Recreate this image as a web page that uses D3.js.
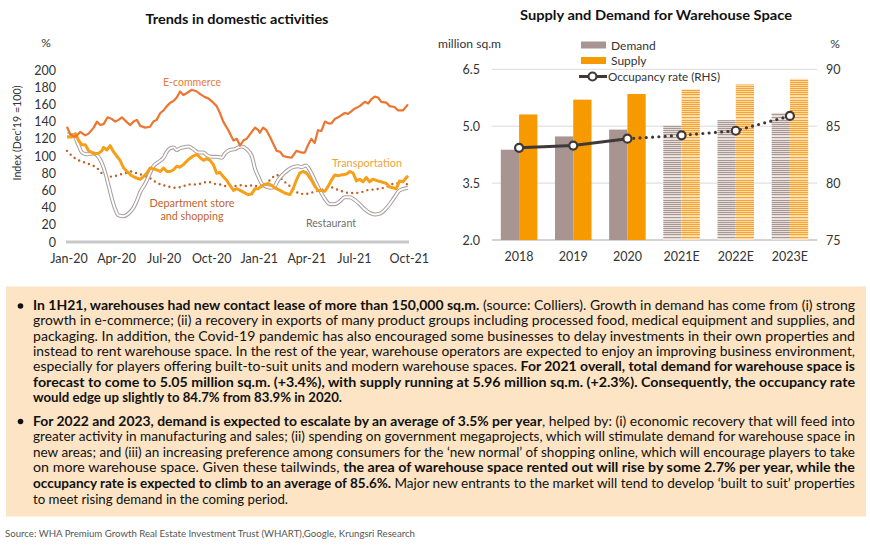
<!DOCTYPE html>
<html><head><meta charset="utf-8">
<script src="https://cdn.jsdelivr.net/npm/d3@7"></script>
<style>
html,body{margin:0;padding:0;background:#fff}
svg{display:block}
text{font-family:Lato,"Open Sans",sans-serif}
</style>
</head><body>
<svg id="chart" width="870" height="546"></svg>
<script>
// ---------------- Left chart data (x = weeks since start of Jan-20) ----------------
const timeTicks = [0, 13, 26, 39, 52, 65, 78, 93];
const timeTickLabels = ["Jan-20","Apr-20","Jul-20","Oct-20","Jan-21","Apr-21","Jul-21","Oct-21"];
const indexTicks = [0,20,40,60,80,100,120,140,160,180,200];

const ecommerce = [[0,134],[0.9,125],[2.3,122],[3.6,128],[5,124],[5.9,126],[7.3,133],[8.2,140],[9.1,136],[10,137],[11.1,145],[12.3,143],[13.2,140],[14.1,142],[15,145],[16.2,140],[17.3,136],[18.2,140],[19.1,142],[20,135],[21.4,133],[22.7,134],[23.6,140],[24.5,142],[25.5,150],[26.4,153],[27.3,158],[28.2,162],[29.1,164],[30,168],[30.9,175],[31.8,171],[32.7,173],[34.1,177],[35.5,175],[36.4,172],[37.5,169],[38.6,167],[40,162],[40.9,158],[41.8,150],[42.7,140],[44.1,130],[45.5,118],[46.4,120],[47.3,112],[48.2,118],[49.1,120],[50.5,128],[51.4,133],[52.3,130],[52.7,127],[53.6,133],[54.5,130],[55.5,122],[56.4,114],[57.3,106],[58.2,105],[59.1,100],[60,99],[61.4,98],[62.7,106],[64.1,104],[65,104],[65.9,113],[66.8,120],[67.7,115],[68.6,130],[69.5,129],[70.5,140],[71.4,138],[72.3,138],[73.2,143],[74.5,146],[75.9,150],[76.8,149],[77.7,152],[78.6,155],[80,158],[81.4,163],[82.3,161],[83.2,166],[84.1,169],[85,168],[85.9,163],[87.3,162],[88.2,158],[89.5,157],[90.5,153],[91.8,153],[93.2,160]];

const transportation = [[0,122],[1.4,122],[2.3,126],[3.2,118],[4.1,113],[5,113],[5.9,106],[7.3,103],[8.6,103],[9.5,106],[10,110],[10.9,107],[11.8,112],[12.7,105],[13.6,100],[14.5,95],[15.5,86],[16.4,82],[17.7,77],[18.6,75],[20,73],[20.9,76],[21.8,80],[22.7,86],[23.6,85],[24.5,84],[25.5,82],[26.4,86],[27.3,82],[28.2,82],[29.1,84],[30,88],[30.9,87],[31.8,90],[33.2,96],[34.5,100],[35.5,102],[36.4,98],[37.3,95],[38.2,97],[39.1,95],[40,90],[40.9,80],[41.8,81],[42.7,76],[43.6,72],[44.5,66],[45.5,60],[46.4,62],[47.3,60],[48.2,58],[49.5,55],[50.5,56],[51.4,62],[52.3,62],[53.2,65],[54.1,67],[55,68],[55.9,66],[56.8,63],[58.2,60],[59.5,57],[60.9,55],[61.8,62],[62.7,72],[63.6,80],[64.5,82],[65.5,80],[66.8,72],[67.7,65],[68.6,60],[69.5,60],[70.5,59],[71.4,65],[72.3,72],[73.2,78],[74.1,77],[75,78],[76.4,79],[77.3,82],[78.2,80],[79.1,71],[80,73],[80.9,70],[81.8,75],[82.7,70],[83.6,73],[85,71],[85.9,70],[87.3,68],[88.2,64],[89.1,63],[90,62],[90.9,71],[91.8,70],[93.2,77]];

const restaurant = [[0,125],[1.8,124],[3.2,112],[4.1,104],[5.5,102],[7.3,103],[8.6,99],[9.5,92],[10.5,80],[11.4,65],[12.3,50],[13.2,38],[14.1,31],[15.5,30],[16.8,33],[18.2,40],[19.1,48],[20,58],[21.4,68],[22.7,80],[23.6,88],[25,93],[26.4,98],[27.3,105],[28.2,109],[29.1,110],[30,107],[30.9,109],[31.8,110],[33.2,111],[34.5,108],[35.9,104],[37.3,104],[38.2,101],[39.5,99],[40.9,99],[42.3,98],[43.2,103],[44.5,107],[45.9,108],[46.8,110],[47.7,111],[49.1,108],[50.5,100],[51.4,85],[52.3,76],[53.2,68],[54.5,64],[55.9,63],[56.8,65],[57.7,72],[59.1,79],[60.5,84],[61.8,87],[63.2,88],[64.1,87],[65.3,89],[66.4,83],[67.7,72],[69.1,60],[70.5,50],[71.8,44],[73.2,44],[74.5,47],[75.9,52],[77.3,52],[78.6,49],[80,44],[81.4,38],[82.7,34],[84.1,32],[85.5,33],[86.8,37],[88.2,44],[89.5,52],[90.9,60],[93.2,63]];

const deptStore = [[0,106],[1.4,100],[2.7,96],[4.5,93],[6.4,90],[8.2,86],[9.5,80],[10.9,77],[12.3,76],[14.1,78],[15.9,80],[17.7,82],[19.1,80],[20.5,78],[21.8,76],[23.2,73],[24.5,69],[26.4,66],[28.2,64],[30,63],[31.8,65],[33.6,67],[35.5,67],[37.3,69],[38.6,70],[40,68],[41.8,67],[43.6,65],[45.5,65],[47.3,66],[49.1,65],[50.9,66],[52.7,64],[54.5,68],[55.9,74],[57.3,78],[58.2,75],[59.5,70],[60.9,65],[62.3,60],[63.6,56],[65.5,56],[67.3,58],[69.1,60],[70.5,62],[71.8,64],[73.2,62],[74.5,60],[75.9,58],[77.3,57],[78.6,57],[80.5,58],[81.8,60],[83.6,61],[85.5,62],[87.3,64],[88.6,67],[90,68],[91.8,70],[93.2,66]];

// ---------------- Right chart data ----------------
const years = ["2018","2019","2020","2021E","2022E","2023E"];
const demand = [4.38, 4.73, 4.91, 5.02, 5.16, 5.35];
const supply = [5.31, 5.70, 5.85, 5.97, 6.10, 6.25];
const occupancy = [83.1, 83.3, 83.9, 84.2, 84.6, 85.9];
const areaTicks = [2.0, 3.5, 5.0, 6.5];
const rateTicks = [75, 80, 85, 90];

// ---------------- Text box ----------------
const para1 = [
  [["In 1H21, warehouses had new contact lease of more than 150,000 sq.m.",1],[" (source: Colliers). Growth in demand has come from (i) strong",0]],
  [["growth in e-commerce; (ii) a recovery in exports of many product groups including processed food, medical equipment and supplies, and",0]],
  [["packaging. In addition, the Covid-19 pandemic has also encouraged some businesses to delay investments in their own properties and",0]],
  [["instead to rent warehouse space. In the rest of the year, warehouse operators are expected to enjoy an improving business environment,",0]],
  [["especially for players offering built-to-suit units and modern warehouse spaces. ",0],["For 2021 overall, total demand for warehouse space is",1]],
  [["forecast to come to 5.05 million sq.m. (+3.4%), with supply running at 5.96 million sq.m. (+2.3%). Consequently, the occupancy rate",1]],
  [["would edge up slightly to 84.7% from 83.9% in 2020.",1]]
];
const para2 = [
  [["For 2022 and 2023, demand is expected to escalate by an average of 3.5% per year",1],[", helped by: (i) economic recovery that will feed into",0]],
  [["greater activity in manufacturing and sales; (ii) spending on government megaprojects, which will stimulate demand for warehouse space in",0]],
  [["new areas; and (iii) an increasing preference among consumers for the \u2018new normal\u2019 of shopping online, which will encourage players to take",0]],
  [["on more warehouse space. Given these tailwinds, ",0],["the area of warehouse space rented out will rise by some 2.7% per year, while the",1]],
  [["occupancy rate is expected to climb to an average of 85.6%.",1],[" Major new entrants to the market will tend to develop \u2018built to suit\u2019 properties",0]],
  [["to meet rising demand in the coming period.",0]]
];
const sourceText = "Source: WHA Premium Growth Real Estate Investment Trust (WHART),Google, Krungsri Research";

// =====================================================================
const svg = d3.select("#chart");
const defs = svg.append("defs");

// ---------- LEFT CHART ----------
const L = svg.append("g");
const x = d3.scaleLinear().domain([0, 93.2]).range([67, 408]);
const y = d3.scaleLinear().domain([0, 200]).range([242, 70]);

L.append("text").attr("x", 237).attr("y", 24).attr("text-anchor","middle")
  .attr("font-size", 13.5).attr("font-weight", 700).attr("fill","#111")
  .attr("textLength", 183).attr("lengthAdjust","spacingAndGlyphs")
  .text("Trends in domestic activities");
L.append("text").attr("x", 46).attr("y", 47).attr("text-anchor","middle")
  .attr("font-size", 12).attr("fill","#333").text("%");
L.append("text").attr("transform","translate(21,133) rotate(-90)")
  .attr("text-anchor","middle").attr("font-size", 11).attr("fill","#333")
  .attr("textLength", 95).attr("lengthAdjust","spacingAndGlyphs")
  .text("Index (Dec\u201919 =100)");

// y tick labels
const yAxis = d3.axisLeft(y).tickValues(indexTicks).tickSize(0).tickPadding(0);
const yg = L.append("g").attr("transform","translate(56,0)").call(yAxis);
yg.select(".domain").remove();
yg.selectAll("text").attr("font-size", 12.5).attr("fill","#333")
  .attr("font-family","Lato, 'Open Sans', sans-serif");

// x axis
const xAxis = d3.axisBottom(x).tickValues(timeTicks).tickSize(0).tickPadding(0)
  .tickFormat((d,i) => timeTickLabels[i]);
const xg = L.append("g").attr("transform","translate(0,254)").call(xAxis);
xg.select(".domain").remove();
xg.selectAll("text").attr("font-size", 12.5).attr("fill","#333")
  .attr("font-family","Lato, 'Open Sans', sans-serif")
  .attr("dy","0.71em").attr("y", 0).attr("dx", 1.5);
L.append("line").attr("x1", x(0)-1).attr("x2", x(93.2)+1)
  .attr("y1", y(0)).attr("y2", y(0)).attr("stroke","#C8C8C8").attr("stroke-width", 3);

const line = d3.line().x(d => x(d[0])).y(d => y(d[1]));
const curved = d3.line().x(d => x(d[0])).y(d => y(d[1])).curve(d3.curveMonotoneX);

// Department store (dotted)
L.append("path").datum(deptStore).attr("d", curved)
  .attr("fill","none").attr("stroke","#C0602A").attr("stroke-width", 2.4)
  .attr("stroke-linecap","round").attr("stroke-dasharray","0,5.2");
// Restaurant (double line)
L.append("path").datum(restaurant).attr("d", curved)
  .attr("fill","none").attr("stroke","#A8A0A0").attr("stroke-width", 4).attr("stroke-linejoin","round");
L.append("path").datum(restaurant).attr("d", curved)
  .attr("fill","none").attr("stroke","#fff").attr("stroke-width", 1.9).attr("stroke-linejoin","round");
// Transportation
L.append("path").datum(transportation).attr("d", line)
  .attr("fill","none").attr("stroke","#F6A01A").attr("stroke-width", 3).attr("stroke-linejoin","round");
// E-commerce
L.append("path").datum(ecommerce).attr("d", line)
  .attr("fill","none").attr("stroke","#EC7530").attr("stroke-width", 2.2).attr("stroke-linejoin","round");

// series labels
function lab(g, txt, cx, cy, col, w, fs) {
  g.append("text").attr("x", cx).attr("y", cy).attr("text-anchor","middle")
    .attr("font-size", fs || 12).attr("fill", col)
    .attr("textLength", w).attr("lengthAdjust","spacingAndGlyphs").text(txt);
}
lab(L, "E-commerce", 192, 86, "#E8793A", 58);
lab(L, "Transportation", 367, 166.5, "#F2A33A", 70);
lab(L, "Department store", 192, 206.5, "#C0642E", 85, 11.5);
lab(L, "and shopping", 192, 219.5, "#C0642E", 63, 11.5);
lab(L, "Restaurant", 331, 226.5, "#707070", 50);

// ---------- RIGHT CHART ----------
const R = svg.append("g");
const xb = d3.scaleBand().domain(years).range([492, 817]).paddingInner(0.325).paddingOuter(0.1625);
const xs = d3.scaleBand().domain(["demand","supply"]).range([0, xb.bandwidth()]);
const yL = d3.scaleLinear().domain([2.0, 6.5]).range([240, 69.3]);
const yR = d3.scaleLinear().domain([75, 90]).range([240, 69.3]);

R.append("text").attr("x", 656).attr("y", 20).attr("text-anchor","middle")
  .attr("font-size", 13.5).attr("font-weight", 700).attr("fill","#111")
  .attr("textLength", 272).attr("lengthAdjust","spacingAndGlyphs")
  .text("Supply and Demand for Warehouse Space");
R.append("text").attr("x", 438).attr("y", 47.5).attr("font-size", 12).attr("fill","#333")
  .attr("textLength", 63).attr("lengthAdjust","spacingAndGlyphs").text("million sq.m");
R.append("text").attr("x", 835).attr("y", 47.5).attr("text-anchor","middle").attr("font-size", 12).attr("fill","#333").text("%");

// stripe patterns for estimates
function stripes(id, dark, light) {
  const p = defs.append("pattern").attr("id", id).attr("patternUnits","userSpaceOnUse")
    .attr("width", 6).attr("height", 20);
  p.append("rect").attr("width", 6).attr("height", 20).attr("fill", light);
  [0, 2, 4, 6, 8, 10, 12, 14, 17].forEach(r =>
    p.append("rect").attr("x", 0).attr("y", r).attr("width", 6).attr("height", 1.1).attr("fill", dark));
}
stripes("pDemand", "#A89793", "#ECE5E3");
stripes("pSupply", "#F7A32F", "#FDE2B8");

// gridlines
R.append("g").selectAll("line").data(areaTicks.slice(1)).join("line")
  .attr("x1", 492).attr("x2", 817).attr("y1", d => yL(d)).attr("y2", d => yL(d))
  .attr("stroke","#D9D9D9").attr("stroke-width", 1);
R.append("line").attr("x1", 492).attr("x2", 817).attr("y1", yL(2)).attr("y2", yL(2))
  .attr("stroke","#C4C4C4").attr("stroke-width", 1.3);

// bars
const isEst = y => y.endsWith("E");
R.append("g").selectAll("rect").data(years).join("rect")
  .attr("x", d => xb(d) + xs("demand")).attr("width", xs.bandwidth())
  .attr("y", (d,i) => yL(demand[i])).attr("height", (d,i) => yL(2) - yL(demand[i]))
  .attr("fill", d => isEst(d) ? "url(#pDemand)" : "#A89490");
R.append("g").selectAll("rect").data(years).join("rect")
  .attr("x", d => xb(d) + xs("supply")).attr("width", xs.bandwidth())
  .attr("y", (d,i) => yL(supply[i])).attr("height", (d,i) => yL(2) - yL(supply[i]))
  .attr("fill", d => isEst(d) ? "url(#pSupply)" : "#F79A00");

// occupancy line
const occPts = years.map((d,i) => [xb(d) + xb.bandwidth()/2, yR(occupancy[i]), d]);
const lastActual = years.findIndex(isEst) - 1;
const oline = d3.line().x(d => d[0]).y(d => d[1]);
R.append("path").datum(occPts.slice(0, lastActual + 1)).attr("d", oline)
  .attr("fill","none").attr("stroke","#403939").attr("stroke-width", 3);
R.append("path").datum(occPts.slice(lastActual)).attr("d", oline)
  .attr("fill","none").attr("stroke","#403939").attr("stroke-width", 3.2)
  .attr("stroke-linecap","round").attr("stroke-dasharray","0,6.3");
R.append("g").selectAll("circle").data(occPts).join("circle")
  .attr("cx", d => d[0]).attr("cy", d => d[1]).attr("r", 4)
  .attr("fill","#fff").attr("stroke","#403939").attr("stroke-width", 2.2);

// axes labels
const lAx = R.append("g").attr("transform","translate(480,0)")
  .call(d3.axisLeft(yL).tickValues(areaTicks).tickFormat(d3.format(".1f")).tickSize(0).tickPadding(0));
lAx.select(".domain").remove();
lAx.selectAll("text").attr("font-size", 12.5).attr("fill","#333").attr("font-family","Lato, 'Open Sans', sans-serif");
const rAx = R.append("g").attr("transform","translate(826,0)")
  .call(d3.axisRight(yR).tickValues(rateTicks).tickSize(0).tickPadding(0));
rAx.select(".domain").remove();
rAx.selectAll("text").attr("font-size", 12.5).attr("fill","#333").attr("font-family","Lato, 'Open Sans', sans-serif");
const bAx = R.append("g").attr("transform","translate(0,252)")
  .call(d3.axisBottom(xb).tickSize(0).tickPadding(0));
bAx.select(".domain").remove();
bAx.selectAll("text").attr("font-size", 12.5).attr("fill","#333").attr("font-family","Lato, 'Open Sans', sans-serif");

// legend
const lg = R.append("g");
lg.append("rect").attr("x", 581).attr("y", 41.5).attr("width", 25).attr("height", 7).attr("fill","#A89490");
lg.append("text").attr("x", 611).attr("y", 49.5).attr("font-size", 12).attr("fill","#333").text("Demand");
lg.append("rect").attr("x", 581).attr("y", 57).attr("width", 25).attr("height", 7).attr("fill","#F79A00");
lg.append("text").attr("x", 611).attr("y", 65).attr("font-size", 12).attr("fill","#333").text("Supply");
lg.append("line").attr("x1", 579).attr("x2", 607).attr("y1", 76.5).attr("y2", 76.5).attr("stroke","#403939").attr("stroke-width", 3);
lg.append("circle").attr("cx", 592.5).attr("cy", 76.5).attr("r", 4).attr("fill","#fff").attr("stroke","#403939").attr("stroke-width", 2.2);
lg.append("text").attr("x", 608).attr("y", 81).attr("font-size", 12).attr("fill","#333")
  .attr("textLength", 112).attr("lengthAdjust","spacingAndGlyphs").text("Occupancy rate (RHS)");

// ---------- TEXT BOX ----------
const B = svg.append("g");
B.append("rect").attr("x", 6).attr("y", 286.5).attr("width", 860).attr("height", 230).attr("fill","#FCE4C4");
const textLeft = 33, textRight = 855;
function para(lines, y0, step, lastWidth) {
  B.append("circle").attr("cx", 20.5).attr("cy", y0 - 4).attr("r", 2.8).attr("fill","#111");
  lines.forEach((segs, i) => {
    const t = B.append("text").attr("x", textLeft).attr("y", y0 + i*step)
      .attr("font-size", 13).attr("fill","#111")
      .attr("textLength", i === lines.length - 1 ? lastWidth : textRight - textLeft)
      .attr("lengthAdjust","spacingAndGlyphs")
      .attr("xml:space","preserve").style("white-space","pre");
    segs.forEach(s => t.append("tspan").attr("font-weight", s[1] ? 700 : 400).text(s[0]));
  });
}
para(para1, 310, 15.35, 309);
para(para2, 425.5, 15.6, 255);
B.append("text").attr("x", 5).attr("y", 536.5).attr("font-size", 9.5).attr("fill","#555")
  .attr("textLength", 410).attr("lengthAdjust","spacingAndGlyphs").text(sourceText);
</script>
</body></html>
